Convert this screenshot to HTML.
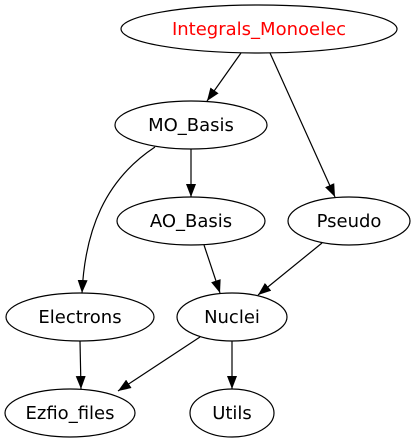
<!DOCTYPE html>
<html><head><meta charset="utf-8"><style>
html,body{margin:0;padding:0;background:#fff;width:416px;height:443px;overflow:hidden}
text{font-family:"DejaVu Sans",sans-serif;font-size:18px;text-anchor:middle}
</style></head><body>
<svg width="416" height="443" viewBox="0 0 416 443" xmlns="http://www.w3.org/2000/svg">
<defs><marker id="a" markerWidth="13" markerHeight="10" refX="13" refY="5" orient="auto" markerUnits="userSpaceOnUse"><polygon points="0,0 13,5 0,10" fill="#000"/></marker></defs>
<g fill="none" stroke="#000" stroke-width="1.2">
<ellipse cx="259" cy="29" rx="138" ry="24"/>
<ellipse cx="191" cy="125" rx="76" ry="24"/>
<ellipse cx="191" cy="221" rx="74" ry="24"/>
<ellipse cx="349" cy="221" rx="61" ry="24"/>
<ellipse cx="80" cy="317" rx="74" ry="24"/>
<ellipse cx="232" cy="317" rx="55" ry="24"/>
<ellipse cx="70" cy="413" rx="65" ry="24"/>
<ellipse cx="232" cy="413" rx="42" ry="24"/>
<g marker-end="url(#a)">
<path d="M241,53 L207,101"/>
<path d="M270,53 L335,197"/>
<path d="M191,149 L191,197"/>
<path d="M155,147 C105,180 85,230 82,293"/>
<path d="M204,245 L220,293"/>
<path d="M322,243 L258,295"/>
<path d="M80,341 L81,389"/>
<path d="M200,337 L118,391"/>
<path d="M232,341 L232,389"/>
</g></g>
<text x="259" y="35" fill="#f00">Integrals_Monoelec</text>
<text x="191" y="131">MO_Basis</text>
<text x="191" y="227">AO_Basis</text>
<text x="349" y="227">Pseudo</text>
<text x="80" y="323">Electrons</text>
<text x="232" y="323">Nuclei</text>
<text x="70" y="419">Ezfio_files</text>
<text x="232" y="419">Utils</text>
</svg>
</body></html>
